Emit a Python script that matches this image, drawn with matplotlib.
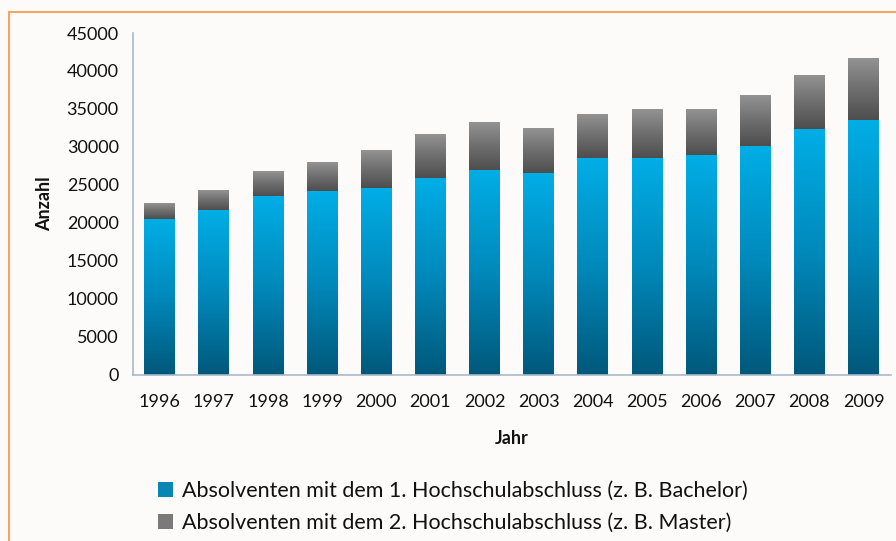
import numpy as np
import matplotlib.pyplot as plt
from matplotlib.patches import Patch
from matplotlib.colors import LinearSegmentedColormap
from matplotlib.lines import Line2D

plt.rcParams['font.family'] = ['Lato', 'DejaVu Sans']

years = ['1996', '1997', '1998', '1999', '2000', '2001', '2002',
         '2003', '2004', '2005', '2006', '2007', '2008', '2009']
first_degree = [20500, 21700, 23500, 24200, 24600, 25900, 27000,
                26600, 28500, 28600, 28900, 30100, 32300, 33600]
total = [22500, 24300, 26700, 27900, 29500, 31600, 33300,
         32400, 34200, 35000, 34900, 36700, 39300, 41700]
second_degree = [t - f for t, f in zip(total, first_degree)]

label_1 = 'Absolventen mit dem 1. Hochschulabschluss (z. B. Bachelor)'
label_2 = 'Absolventen mit dem 2. Hochschulabschluss (z. B. Master)'

blue_map = LinearSegmentedColormap.from_list('blue', ['#00587a', '#0089bb', '#00aee6'])
gray_map = LinearSegmentedColormap.from_list('gray', ['#4e4e4e', '#6e6e6e', '#939393'])
grad = np.linspace(0, 1, 256).reshape(-1, 1)

fig = plt.figure(figsize=(8.96, 5.41), dpi=100)
fig.patch.set_facecolor('#fdfbfa')
ax = fig.add_axes([0.148, 0.307, 0.846, 0.632])
ax.set_facecolor('#fdfbfa')

# orange frame, top and left
fig.add_artist(Line2D([9 / 896, 9 / 896], [0, 1 - 12 / 541], color='#f5a462', lw=1.5))
fig.add_artist(Line2D([9 / 896, 1], [1 - 12 / 541, 1 - 12 / 541], color='#f5a462', lw=1.5))

width = 0.57
x = np.arange(len(years))
for i in range(len(years)):
    # gradient bars drawn as images
    ax.imshow(grad, cmap=blue_map, origin='lower', aspect='auto',
              extent=(x[i] - width / 2, x[i] + width / 2, 0, first_degree[i]), zorder=2)
    ax.imshow(grad, cmap=gray_map, origin='lower', aspect='auto',
              extent=(x[i] - width / 2, x[i] + width / 2, first_degree[i], total[i]), zorder=2)

ax.set_xlim(-0.5, len(years) - 0.5)
ax.set_ylim(0, 45000)
ax.set_yticks(np.arange(0, 45001, 5000))
ax.set_xticks(x)
ax.set_xticklabels(years)
ax.tick_params(axis='both', length=0, labelsize=13, colors='#111111')
ax.tick_params(axis='x', pad=14)
ax.tick_params(axis='y', pad=10)
for s in ['top', 'right']:
    ax.spines[s].set_visible(False)
for s in ['left', 'bottom']:
    ax.spines[s].set_color('#a8b8c8')
    ax.spines[s].set_linewidth(1.2)

ax.set_xlabel('Jahr', fontsize=13, fontweight='bold', labelpad=14, color='#111111')
ax.set_ylabel('Anzahl', fontsize=13, fontweight='bold', labelpad=10, color='#111111')

handles = [Patch(facecolor='#0a86b4', label=label_1),
           Patch(facecolor='#7a7a7a', label=label_2)]
fig.legend(handles=handles, loc='upper left', bbox_to_anchor=(0.176, 0.111),
           bbox_transform=fig.transFigure, frameon=False, fontsize=15.5,
           labelcolor='#111111', borderaxespad=0, borderpad=0,
           handlelength=0.7, handleheight=0.7, handletextpad=0.45, labelspacing=0.55)

fig.savefig('out.png', dpi=100, facecolor=fig.get_facecolor())
